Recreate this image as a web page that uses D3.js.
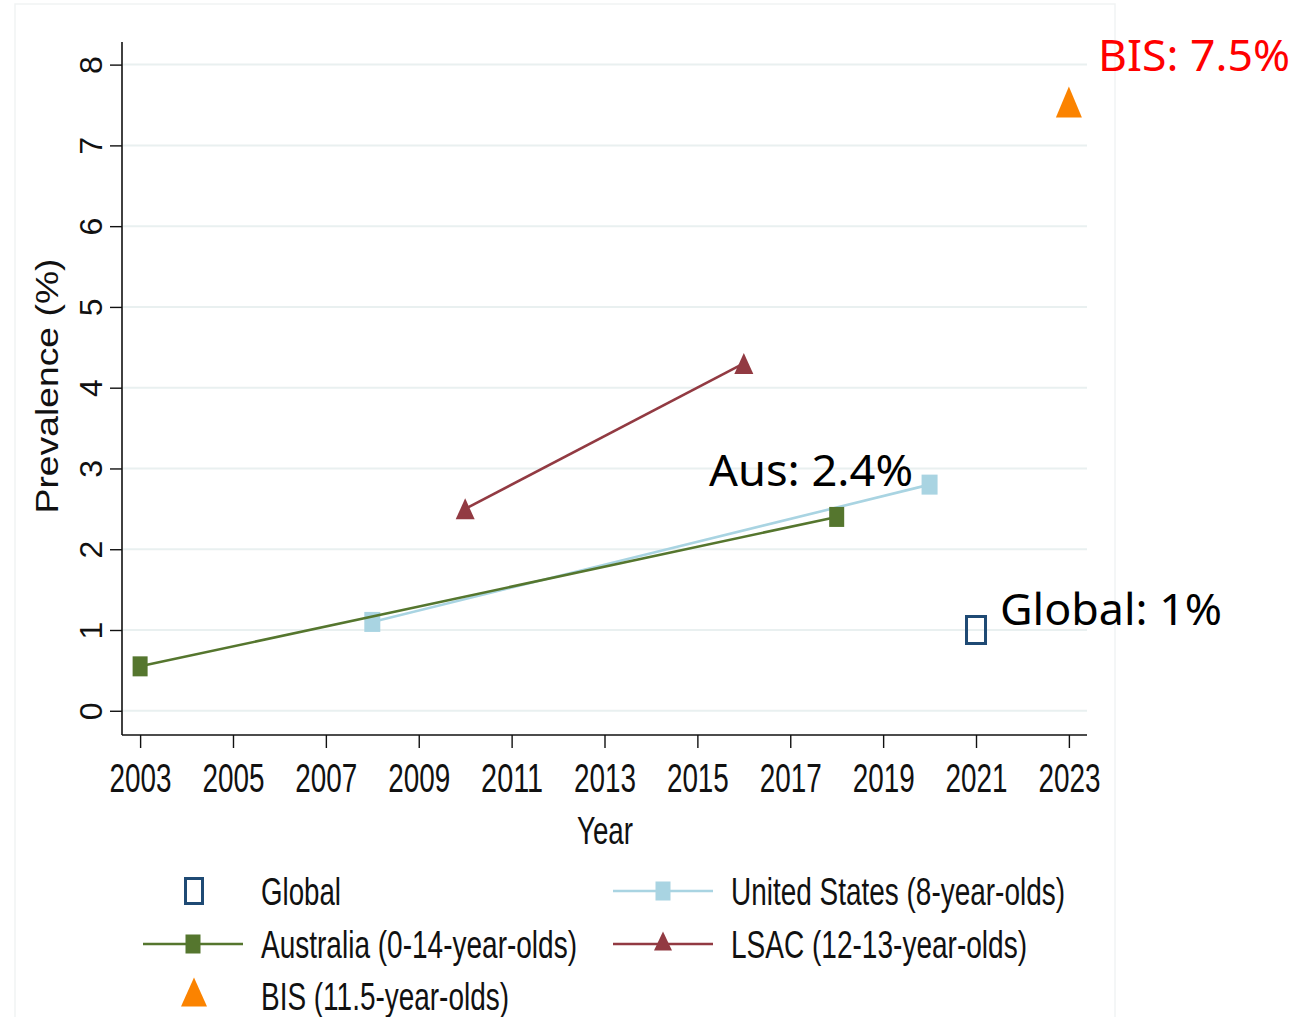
<!DOCTYPE html>
<html>
<head>
<meta charset="utf-8">
<script src="https://cdn.jsdelivr.net/npm/d3@7"></script>
<style>
  body { margin: 0; background: #fff; }
  svg { display: block; }
  .tick-lbl { font-family: "Liberation Sans Narrow", "Liberation Sans", Arial, sans-serif; fill: #111; }
  .note { font-family: "Noto Sans", "Open Sans", sans-serif; }
</style>
</head>
<body>
<div id="chart"></div>
<script>
// data
var years = [2003, 2005, 2007, 2009, 2011, 2013, 2015, 2017, 2019, 2021, 2023];
var yTicks = [0, 1, 2, 3, 4, 5, 6, 7, 8];

var australia = [{ year: 2003, value: 0.55 }, { year: 2018, value: 2.4 }];
var unitedStates = [{ year: 2008, value: 1.1 }, { year: 2020, value: 2.8 }];
var lsac = [{ year: 2010, value: 2.5 }, { year: 2016, value: 4.3 }];
var globalPt = [{ year: 2021, value: 1.0 }];
var bis = [{ year: 2023, value: 7.5 }];

var notes = [
    { text: 'Aus: 2.4%', x: 709, y: 486, color: '#000', len: 204 },
    { text: 'Global: 1%', x: 1000, y: 625, color: '#000', len: 222 },
    { text: 'BIS: 7.5%', x: 1098, y: 71, color: '#ff0000', len: 192 }
];

var colors = {
    global: '#1f4a74',
    aus: '#55762e',
    us: '#a9d4e2',
    lsac: '#923a42',
    bis: '#fb8300'
};

var width = 1315, height = 1017;

var svg = d3.select('#chart').append('svg')
    .attr('width', width)
    .attr('height', height);

// faint graph-region border
svg.append('rect')
    .attr('x', 15).attr('y', 4)
    .attr('width', 1100).attr('height', 1020)
    .attr('fill', 'none')
    .attr('stroke', '#f1f3f4')
    .attr('stroke-width', 1.5);

var x = d3.scaleLinear().domain([2002.61, 2023.39]).range([122, 1087]),
    y = d3.scaleLinear().domain([-0.3, 8.28]).range([735, 42]);

// gridlines
svg.append('g').selectAll('line')
    .data(yTicks)
    .enter().append('line')
    .attr('x1', 123).attr('x2', 1087)
    .attr('y1', function(d) { return y(d); })
    .attr('y2', function(d) { return y(d); })
    .attr('stroke', '#e9f0f0')
    .attr('stroke-width', 2);

// y axis
var yAxis = svg.append('g')
    .attr('transform', 'translate(122,0)')
    .call(d3.axisLeft(y).tickValues(yTicks).tickSize(12).tickSizeOuter(0).tickFormat(d3.format('d')));
yAxis.select('.domain').attr('stroke', '#111').attr('stroke-width', 1.6).attr('d', 'M0,42V735');
yAxis.selectAll('.tick line').attr('stroke', '#111').attr('stroke-width', 1.4);
yAxis.selectAll('.tick text')
    .attr('x', 0).attr('dy', 0)
    .attr('transform', 'translate(-31,0) rotate(-90)')
    .attr('text-anchor', 'middle')
    .attr('dominant-baseline', 'central')
    .style('font-family', '"Liberation Sans", Arial, sans-serif')
    .style('font-size', '32px')
    .attr('fill', '#111');

// x axis
var xAxis = svg.append('g')
    .attr('transform', 'translate(0,735)')
    .call(d3.axisBottom(x).tickValues(years).tickSize(13).tickSizeOuter(0).tickFormat(d3.format('d')));
xAxis.select('.domain').attr('stroke', '#111').attr('stroke-width', 1.6).attr('d', 'M122,0H1087');
xAxis.selectAll('.tick line').attr('stroke', '#111').attr('stroke-width', 1.4);
xAxis.selectAll('.tick text')
    .attr('class', 'tick-lbl')
    .attr('y', 57).attr('dy', 0)
    .style('font-size', '41px')
    .attr('textLength', 62)
    .attr('lengthAdjust', 'spacingAndGlyphs')
    .attr('fill', '#111');

// axis titles
svg.append('text')
    .attr('transform', 'translate(58,386) rotate(-90)')
    .attr('text-anchor', 'middle')
    .style('font-family', '"Liberation Sans", Arial, sans-serif')
    .style('font-size', '31px')
    .attr('textLength', 255)
    .attr('lengthAdjust', 'spacingAndGlyphs')
    .attr('fill', '#111')
    .text('Prevalence (%)');

svg.append('text')
    .attr('class', 'tick-lbl')
    .attr('x', 605).attr('y', 844)
    .attr('text-anchor', 'middle')
    .style('font-size', '39px')
    .attr('textLength', 56)
    .attr('lengthAdjust', 'spacingAndGlyphs')
    .text('Year');

// marker helpers
function squareMarker(g, cx, cy, w, h, fill, stroke) {
    g.append('rect')
        .attr('x', cx - w / 2).attr('y', cy - h / 2)
        .attr('width', w).attr('height', h)
        .attr('fill', fill)
        .attr('stroke', stroke || 'none')
        .attr('stroke-width', stroke ? 3 : 0);
}

function triangleMarker(g, cx, cy, w, h, fill) {
    g.append('path')
        .attr('d', 'M' + cx + ',' + (cy - h / 2) + 'L' + (cx + w / 2) + ',' + (cy + h / 2) + 'L' + (cx - w / 2) + ',' + (cy + h / 2) + 'Z')
        .attr('fill', fill);
}

var line = d3.line()
    .x(function(d) { return x(d.year); })
    .y(function(d) { return y(d.value); });

var plot = svg.append('g').attr('class', 'plot');

// US (drawn first, sits under Australia)
plot.append('path').datum(unitedStates)
    .attr('d', line).attr('fill', 'none')
    .attr('stroke', colors.us).attr('stroke-width', 2.6);
unitedStates.forEach(function(d) { squareMarker(plot, x(d.year), y(d.value), 16, 20, colors.us); });

plot.append('path').datum(australia)
    .attr('d', line).attr('fill', 'none')
    .attr('stroke', colors.aus).attr('stroke-width', 2.6);
australia.forEach(function(d) { squareMarker(plot, x(d.year), y(d.value), 15, 20, colors.aus); });

plot.append('path').datum(lsac)
    .attr('d', line).attr('fill', 'none')
    .attr('stroke', colors.lsac).attr('stroke-width', 2.6);
lsac.forEach(function(d) { triangleMarker(plot, x(d.year), y(d.value), 19, 21, colors.lsac); });

globalPt.forEach(function(d) { squareMarker(plot, x(d.year), y(d.value), 19, 27, 'none', colors.global); });
bis.forEach(function(d) { triangleMarker(plot, x(d.year), y(d.value) - 3, 26, 31, colors.bis); });

// annotations
svg.append('g').selectAll('text')
    .data(notes)
    .enter().append('text')
    .attr('class', 'note')
    .attr('x', function(d) { return d.x; })
    .attr('y', function(d) { return d.y; })
    .style('font-size', '43px')
    .attr('textLength', function(d) { return d.len; })
    .attr('lengthAdjust', 'spacingAndGlyphs')
    .attr('fill', function(d) { return d.color; })
    .text(function(d) { return d.text; });

// legend
var legendItems = [
    { label: 'Global', col: 0, row: 0, kind: 'hollow', color: colors.global, len: 80 },
    { label: 'United States (8-year-olds)', col: 1, row: 0, kind: 'lineSquare', color: colors.us, len: 334 },
    { label: 'Australia (0-14-year-olds)', col: 0, row: 1, kind: 'lineSquare', color: colors.aus, len: 316 },
    { label: 'LSAC (12-13-year-olds)', col: 1, row: 1, kind: 'lineTriangle', color: colors.lsac, len: 296 },
    { label: 'BIS (11.5-year-olds)', col: 0, row: 2, kind: 'triangle', color: colors.bis, len: 248 }
];
var colX = [193, 663], textX = [261, 731], rowY = [891, 944, 996];

var legend = svg.append('g').attr('class', 'legend');
legendItems.forEach(function(d) {
    var cx = colX[d.col], cy = rowY[d.row];
    if (d.kind === 'lineSquare' || d.kind === 'lineTriangle') {
        legend.append('line')
            .attr('x1', cx - 50).attr('x2', cx + 50)
            .attr('y1', cy).attr('y2', cy)
            .attr('stroke', d.color).attr('stroke-width', 2.6);
    }
    if (d.kind === 'lineSquare') squareMarker(legend, cx, cy, 15, 19, d.color);
    if (d.kind === 'lineTriangle') triangleMarker(legend, cx, cy - 3, 18, 19, d.color);
    if (d.kind === 'hollow') squareMarker(legend, cx + 1, cy, 17, 25, 'none', d.color);
    if (d.kind === 'triangle') triangleMarker(legend, cx + 1, cy - 4, 26, 29, d.color);

    legend.append('text')
        .attr('class', 'tick-lbl')
        .attr('x', textX[d.col]).attr('y', cy + 14)
        .style('font-size', '39px')
        .attr('textLength', d.len)
        .attr('lengthAdjust', 'spacingAndGlyphs')
        .text(d.label);
});
</script>
</body>
</html>
